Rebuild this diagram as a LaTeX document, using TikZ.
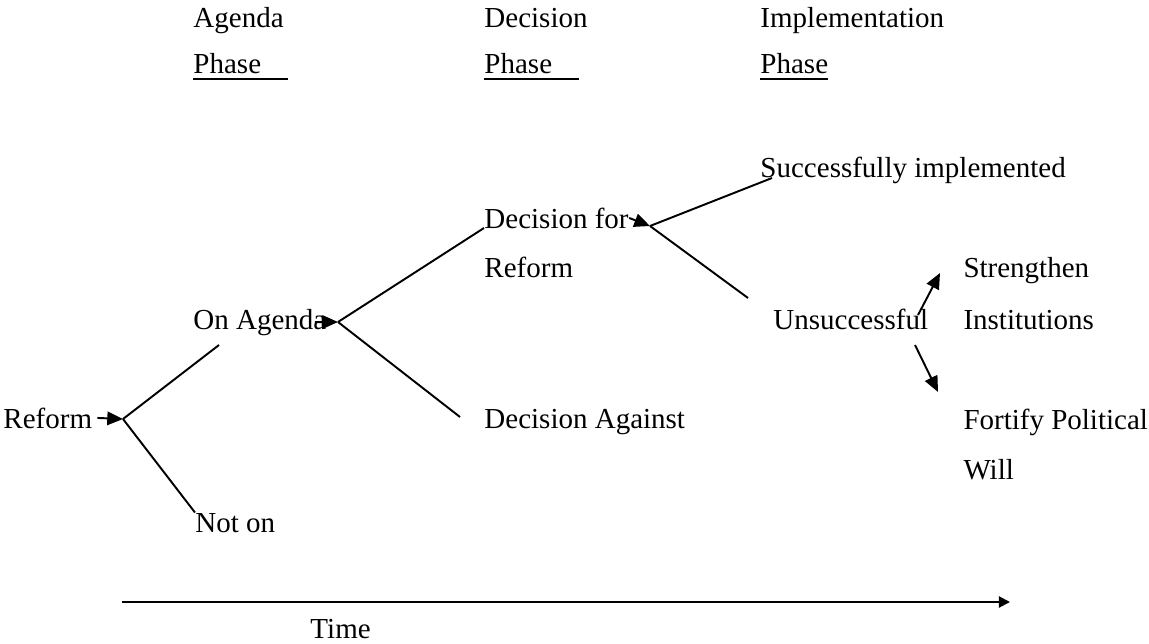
\documentclass[tikz,border=0pt]{standalone}
\usepackage{fontspec}
\setmainfont{Liberation Serif}
\usetikzlibrary{arrows.meta}

% underlined heading with a thicker rule and optional trailing gap
\newcommand\phaseul[2][0pt]{\setbox0\hbox{#2}\rlap{\rule[-2.4pt]{\dimexpr\wd0+#1\relax}{0.8pt}}\box0}

\tikzset{
    label/.style={anchor=base west,inner sep=0pt,font=\fontsize{12}{12}\selectfont},
    branch/.style={line width=0.8pt},
    pointer/.style={line width=0.8pt,-{Triangle[length=6.5pt,width=5.6pt]}},
    timeline/.style={line width=0.8pt,-{Triangle[length=4.6pt,width=4.6pt]}}
}

\begin{document}
\begin{tikzpicture}[x=0.4138pt,y=-0.4138pt]
    \useasboundingbox (0,0) rectangle (1149,643);
    % phase headings
    \node[label] (agenda) at (193,28) {Agenda};
    \node[label] (agendaphase) at (193,74) {\phaseul[11pt]{Phase}};
    \node[label] (decision) at (484,28) {Decision};
    \node[label] (decisionphase) at (484,74) {\phaseul[11pt]{Phase}};
    \node[label] (impl) at (760,28) {Implementation};
    \node[label] (implphase) at (760,74) {\phaseul{Phase}};
    % outcomes
    \node[label] (reform) at (3,428) {Reform};
    \node[label] (onagenda) at (193,329) {On Agenda};
    \node[label] (noton) at (195,532) {Not on};
    \node[label] (decfor) at (484,228) {Decision for};
    \node[label] (decforb) at (484,277) {Reform};
    \node[label] (against) at (484,428) {Decision Against};
    \node[label] (success) at (760,177) {Successfully implemented};
    \node[label] (unsucc) at (773,329) {Unsuccessful};
    \node[label] (strengthen) at (963,277) {Strengthen};
    \node[label] (institutions) at (963,329) {Institutions};
    \node[label] (fortify) at (963,429) {Fortify Political};
    \node[label] (will) at (963,479) {Will};
    \node[label] (time) at (310,638) {Time};
    % branch points and line ends
    \coordinate (b-reform) at (123,419);
    \coordinate (b-agenda) at (338,322);
    \coordinate (b-decfor) at (650,226);
    \coordinate (e-onagenda) at (219,345);
    \coordinate (e-against) at (460,417);
    \coordinate (e-success) at (772,178);
    \coordinate (e-unsucc) at (748,298);
    \coordinate (u-up) at (918,315);
    \coordinate (u-down) at (915,345);
    \coordinate (e-strengthen) at (940,273);
    \coordinate (e-fortify) at (938,392);
    \coordinate (t-start) at (122,602);
    \coordinate (t-end) at (1010,602);
    % tree
    \draw[pointer] ([xshift=2pt]reform.east) -- (b-reform);
    \draw[branch] (b-reform) -- (e-onagenda);
    \draw[branch] (b-reform) -- (noton.north west);
    \draw[pointer] ([xshift=-5pt]onagenda.east) -- (b-agenda);
    \draw[branch] (b-agenda) -- (decfor.base west);
    \draw[branch] (b-agenda) -- (e-against);
    \draw[pointer] (decfor.east) -- (b-decfor);
    \draw[branch] (b-decfor) -- (e-success);
    \draw[branch] (b-decfor) -- (e-unsucc);
    \draw[pointer] (u-up) -- (e-strengthen);
    \draw[pointer] (u-down) -- (e-fortify);
    % time axis
    \draw[timeline] (t-start) -- (t-end);
\end{tikzpicture}
\end{document}
